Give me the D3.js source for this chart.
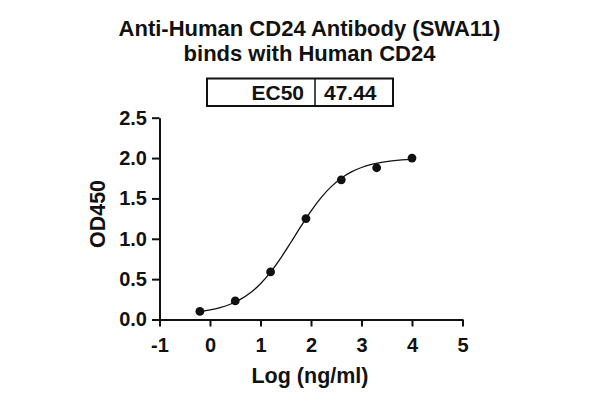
<!DOCTYPE html>
<html>
<head>
<meta charset="utf-8">
<script src="https://cdn.jsdelivr.net/npm/d3@7"></script>
<style>
  body { margin: 0; background: #fff; }
  text { font-family: "Liberation Sans", Arial, sans-serif; font-weight: bold; fill: #111; }
</style>
</head>
<body>
<div id="chart"></div>
<script>
// Chart data
const titleLines = ["Anti-Human CD24 Antibody (SWA11)", "binds with Human CD24"];
const ec50Label = "EC50";
const ec50Value = "47.44";

// measured points
const logConc = [-0.2, 0.5, 1.2, 1.9, 2.6, 3.3, 4.0];
const od450 = [0.10, 0.23, 0.59, 1.25, 1.73, 1.88, 2.00];

// fitted curve
const curveX = [-0.2, 0.0, 0.2, 0.4, 0.6, 0.8, 1.0, 1.2, 1.4, 1.6, 1.8, 2.0, 2.2, 2.4, 2.6, 2.8, 3.0, 3.2, 3.4, 3.6, 3.8, 4.0];
const curveY = [0.099, 0.118, 0.147, 0.189, 0.249, 0.332, 0.443, 0.587, 0.760, 0.954, 1.154, 1.344, 1.510, 1.646, 1.751, 1.828, 1.883, 1.921, 1.947, 1.965, 1.977, 1.984];

const xTicks = [-1, 0, 1, 2, 3, 4, 5];
const yTicks = [0, 0.5, 1.0, 1.5, 2.0, 2.5];

const width = 600;
const height = 403;

const svg = d3.select("#chart")
  .append("svg")
  .attr("width", width)
  .attr("height", height);

// scales
const x = d3.scaleLinear().domain([-1, 5]).range([159.5, 462.5]);
const y = d3.scaleLinear().domain([0, 2.5]).range([319.5, 117.7]);

// title
svg.selectAll("text.title")
  .data(titleLines)
  .enter()
  .append("text")
  .attr("class", "title")
  .attr("x", 309.5)
  .attr("y", (d, i) => 36 + i * 24.5)
  .attr("text-anchor", "middle")
  .style("font-size", "22px")
  .text(d => d);

// EC50 box
const box = svg.append("g");
box.append("rect")
  .attr("x", 207).attr("y", 78.5)
  .attr("width", 186).attr("height", 27.5)
  .attr("fill", "none").attr("stroke", "#111").attr("stroke-width", 2);
box.append("line")
  .attr("x1", 315).attr("x2", 315).attr("y1", 78.5).attr("y2", 106)
  .attr("stroke", "#111").attr("stroke-width", 1.5);
box.append("text")
  .attr("x", 304).attr("y", 99.5)
  .attr("text-anchor", "end")
  .style("font-size", "21px")
  .text(ec50Label);
box.append("text")
  .attr("x", 324).attr("y", 99.5)
  .style("font-size", "21px")
  .text(ec50Value);

// axes
const xAxis = svg.append("g")
  .attr("transform", `translate(0,${y(0)})`)
  .call(d3.axisBottom(x).tickValues(xTicks).tickSize(7).tickSizeOuter(0).tickPadding(11).tickFormat(d => String(d)));

const yAxis = svg.append("g")
  .attr("transform", `translate(${x(-1)},0)`)
  .call(d3.axisLeft(y).tickValues(yTicks).tickSize(7.5).tickSizeOuter(0).tickPadding(5).tickFormat(d => d.toFixed(1)));

[xAxis, yAxis].forEach(g => {
  g.select(".domain").attr("stroke", "#111").attr("stroke-width", 2);
  g.selectAll(".tick line").attr("stroke", "#111").attr("stroke-width", 2);
  g.selectAll(".tick text")
    .attr("fill", "#111")
    .style("font-family", '"Liberation Sans", Arial, sans-serif')
    .style("font-weight", "bold")
    .style("font-size", "20px");
});

// axis titles
svg.append("text")
  .attr("x", 310)
  .attr("y", 382.5)
  .attr("text-anchor", "middle")
  .style("font-size", "21.5px")
  .text("Log (ng/ml)");

svg.append("text")
  .attr("transform", "translate(105,214) rotate(-90)")
  .attr("text-anchor", "middle")
  .style("font-size", "21.5px")
  .text("OD450");

// fitted curve
const line = d3.line()
  .x(d => x(d[0]))
  .y(d => y(d[1]))
  .curve(d3.curveMonotoneX);

svg.append("path")
  .datum(d3.zip(curveX, curveY))
  .attr("d", line)
  .attr("fill", "none")
  .attr("stroke", "#111")
  .attr("stroke-width", 1.3);

// points
svg.selectAll("circle")
  .data(d3.zip(logConc, od450))
  .enter()
  .append("circle")
  .attr("cx", d => x(d[0]))
  .attr("cy", d => y(d[1]))
  .attr("r", 4.4)
  .attr("fill", "#111");
</script>
</body>
</html>
